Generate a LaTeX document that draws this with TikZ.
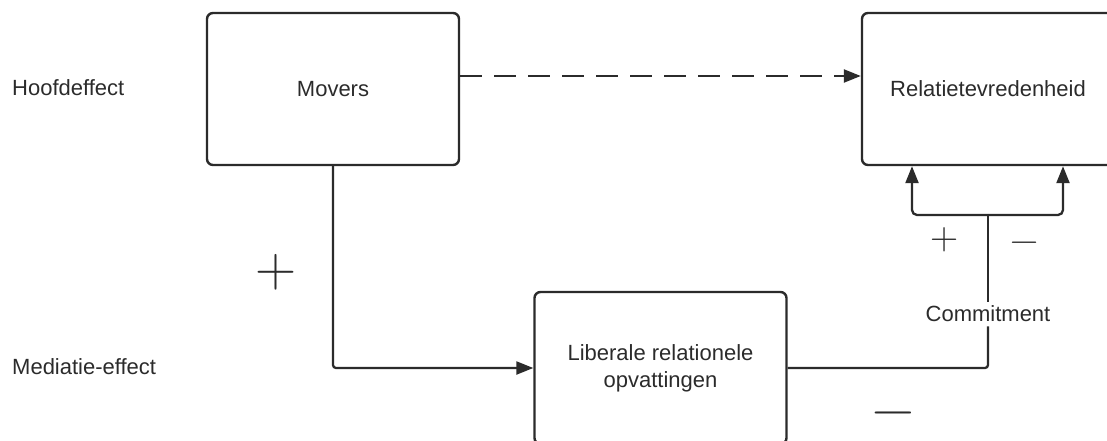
\documentclass[tikz,border=0pt]{standalone}
\usepackage{fontspec}
\setmainfont{Liberation Sans}
\newfontfamily\signfont{Latin Modern Roman}
\usetikzlibrary{arrows.meta}
\definecolor{ink}{HTML}{2B2B2B}
\tikzset{box/.append style={draw=ink,line width=2.4pt,rounded corners=6pt,minimum width=252pt,minimum height=152pt,align=center,text=ink}}
\tikzset{lbl/.append style={text=ink,inner sep=0pt,font=\fontsize{22}{27}\selectfont}}
\tikzset{arr/.append style={draw=ink,line width=2.3pt,-{Triangle[length=17pt,width=13pt]}}}
\tikzset{sign/.append style={text=ink,inner sep=0pt}}

\begin{document}
\begin{tikzpicture}[x=1pt,y=-1pt]
                \useasboundingbox (0,0) rectangle (1107,441);
                \clip (0,0) rectangle (1107,441);
                % boxes
                \node[box,lbl] (movers) at (333,89) {Movers};
                \node[box,lbl] (relatie) at (988,89) {Relatietevredenheid};
                \node[box,lbl] (liberale) at (660.5,368) {Liberale relationele\\opvattingen};
                \node[lbl,anchor=west] (hoofd) at (12,88) {Hoofdeffect};
                \node[lbl,anchor=west] (mediatie) at (12,367) {Mediatie-effect};
                \node[lbl,inner sep=4pt] (commit) at (988,314) {Commitment};
                \coordinate (junc) at (988,215);
                % signs
                \node[sign,font=\signfont\fontsize{57}{57}\selectfont] (plusa) at (276,272) {+};
                \node[sign,font=\signfont\fontsize{39}{39}\selectfont] (plusb) at (945,240) {+};
                \node[sign,font=\signfont\fontsize{39}{39}\selectfont] (mina) at (1025,247) {−};
                \node[sign,font=\signfont\fontsize{58}{58}\selectfont] (minb) at (893,420) {−};
                % connectors
                \draw[arr,dash pattern=on 22pt off 12pt] ([yshift=13pt]movers.east) -- ([yshift=13pt]relatie.west);
                \draw[arr,rounded corners=3pt] (movers.south) |- (liberale.west);
                \draw[draw=ink,line width=2.3pt,rounded corners=3pt] (liberale.east) -| (commit.south);
                \draw[draw=ink,line width=2.3pt] (commit.north) -- (junc);
                \draw[arr,rounded corners=5pt] (junc) -| ([xshift=-76pt]relatie.south);
                \draw[arr,rounded corners=5pt] (junc) -| ([xshift=75pt]relatie.south);
            \end{tikzpicture}
\end{document}
